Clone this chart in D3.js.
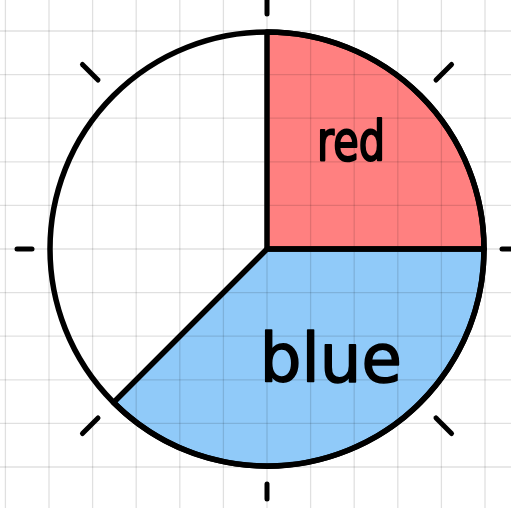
<!DOCTYPE html>
<html>
<head>
<meta charset="utf-8">
<script src="https://cdn.jsdelivr.net/npm/d3@7"></script>
<style>
  html, body { margin: 0; padding: 0; background: #fff; }
  svg { display: block; }
</style>
</head>
<body>
<div id="chart"></div>
<script>
// ---- data ----
const categories = ["red", "blue", "rest"];
const shares = [25, 37.5, 37.5];          // percent of the circle
const sliceColors = ["#ff8080", "#90caf9", "#ffffff"];
const sliceLabels = ["red", "blue", ""];
const tickAngles = [0, 45, 90, 135, 180, 225, 270, 315];   // degrees, clockwise from top

// ---- layout ----
const width = 511, height = 508;
const cx = 267, cy = 249;
const radius = 217;
const gridStep = 43.6;

// label look, per slice (font size, squeeze width, small nudge off the centroid)
const labelStyle = {
  red:  { size: 56, len: 68,  dx: -8, dy: 3, weight: 2.2 },
  blue: { size: 68, len: 142, dx: 14, dy: 13, weight: 1.6 }
};

const svg = d3.select("#chart").append("svg")
  .attr("width", width)
  .attr("height", height);

const data = categories.map((c, i) => ({
  name: c, value: shares[i], color: sliceColors[i], label: sliceLabels[i]
}));

const pie = d3.pie().sort(null).value(d => d.value);
const arcs = pie(data);
const arc = d3.arc().innerRadius(0).outerRadius(radius);
const labelArc = d3.arc().innerRadius(radius * 0.6).outerRadius(radius * 0.6);

const g = svg.append("g").attr("transform", `translate(${cx},${cy})`);

// slice fills
g.selectAll("path.fill")
  .data(arcs)
  .join("path")
  .attr("class", "fill")
  .attr("d", arc)
  .attr("fill", d => d.data.color);

// graph paper grid, drawn over the fills
const xs = d3.range(cx - Math.floor(cx / gridStep) * gridStep, width, gridStep);
const ys = d3.range(cy - Math.floor(cy / gridStep) * gridStep, height, gridStep);
const grid = svg.append("g")
  .attr("stroke", "rgba(0,0,0,0.12)")
  .attr("stroke-width", 1.3);
grid.selectAll("line.v").data(xs).join("line")
  .attr("x1", d => d).attr("x2", d => d)
  .attr("y1", 0).attr("y2", height);
grid.selectAll("line.h").data(ys).join("line")
  .attr("y1", d => d).attr("y2", d => d)
  .attr("x1", 0).attr("x2", width);

// outlines
const outline = svg.append("g").attr("transform", `translate(${cx},${cy})`);
outline.selectAll("path.edge")
  .data(arcs.filter(d => d.data.label))
  .join("path")
  .attr("class", "edge")
  .attr("d", arc)
  .attr("fill", "none")
  .attr("stroke", "#000")
  .attr("stroke-width", 5.5)
  .attr("stroke-linejoin", "round");
outline.append("circle")
  .attr("r", radius)
  .attr("fill", "none")
  .attr("stroke", "#000")
  .attr("stroke-width", 5.5);

// tick marks around the circle
const rad = a => a * Math.PI / 180;
outline.selectAll("line.tick")
  .data(tickAngles)
  .join("line")
  .attr("class", "tick")
  .each(function (a) {
    const diag = a % 90 !== 0;
    const r0 = diag ? 239 : 235;
    const r1 = diag ? 261 : 250;
    d3.select(this)
      .attr("x1", r0 * Math.sin(rad(a))).attr("y1", -r0 * Math.cos(rad(a)))
      .attr("x2", r1 * Math.sin(rad(a))).attr("y2", -r1 * Math.cos(rad(a)));
  })
  .attr("stroke", "#000")
  .attr("stroke-width", 5)
  .attr("stroke-linecap", "round");

// labels
outline.selectAll("text.label")
  .data(arcs.filter(d => d.data.label))
  .join("text")
  .attr("class", "label")
  .each(function (d) {
    const s = labelStyle[d.data.name];
    const [x, y] = labelArc.centroid(d);
    d3.select(this)
      .attr("x", x + s.dx)
      .attr("y", y + s.dy)
      .attr("font-size", s.size)
      .attr("textLength", s.len)
      .attr("stroke-width", s.weight);
  })
  .attr("text-anchor", "middle")
  .attr("lengthAdjust", "spacingAndGlyphs")
  .attr("font-family", "'DejaVu Sans', sans-serif")
  .attr("fill", "#000")
  .attr("stroke", "#000")
  .attr("stroke-linejoin", "round")
  .text(d => d.data.label);
</script>
</body>
</html>
